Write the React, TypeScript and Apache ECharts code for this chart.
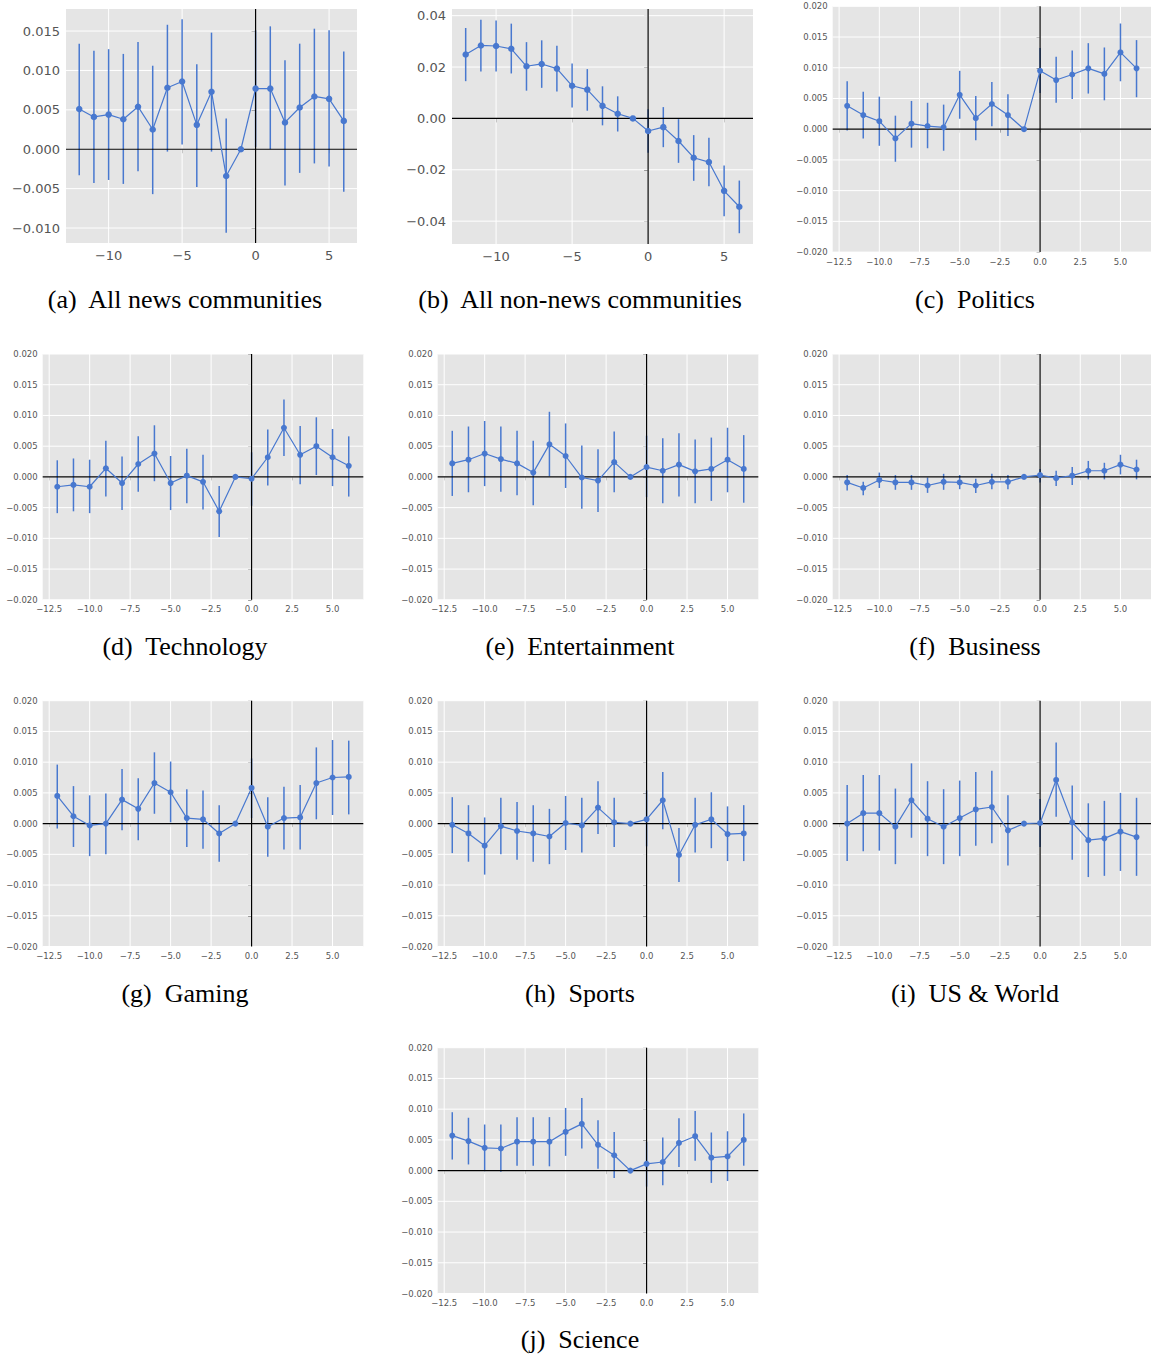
import { useEffect, useRef } from 'react'
import * as echarts from 'echarts'

// months relative to the event
const offsets = [-12, -11, -10, -9, -8, -7, -6, -5, -4, -3, -2, -1, 0, 1, 2, 3, 4, 5, 6]

// (a) All news communities
const newsMean = [0.0051, 0.0041, 0.0044, 0.0038, 0.0054, 0.0025, 0.0078, 0.0086, 0.0031, 0.0073, -0.0034, 0, 0.0077, 0.0077, 0.0034, 0.0053, 0.0067, 0.0064, 0.0036]
const newsHigh = [0.0134, 0.0125, 0.0127, 0.0121, 0.0136, 0.0106, 0.0158, 0.0165, 0.0108, 0.0148, 0.0039, 0, 0.0151, 0.0156, 0.0113, 0.0134, 0.0153, 0.0151, 0.0124]
const newsLow = [-0.0033, -0.0043, -0.0039, -0.0044, -0.0028, -0.0057, -0.0003, 0.0006, -0.0048, -0.0003, -0.0106, 0, 0.0003, 0.0, -0.0046, -0.003, -0.0018, -0.0022, -0.0054]

// (b) All non-news communities
const nonNewsMean = [0.0249, 0.0284, 0.0282, 0.0271, 0.0203, 0.0212, 0.0194, 0.0127, 0.0112, 0.0049, 0.0018, 0, -0.0049, -0.0034, -0.0088, -0.0153, -0.017, -0.0282, -0.0344]
const nonNewsHigh = [0.0352, 0.0384, 0.0381, 0.0369, 0.0297, 0.0304, 0.0283, 0.0214, 0.0192, 0.0125, 0.0086, 0, 0.0036, 0.0044, -0.0003, -0.0065, -0.0075, -0.0183, -0.0242]
const nonNewsLow = [0.0145, 0.0183, 0.0183, 0.0175, 0.0108, 0.0119, 0.0105, 0.0042, 0.003, -0.0027, -0.0051, 0, -0.0134, -0.0112, -0.0173, -0.0243, -0.0264, -0.0381, -0.0447]

// (c) Politics
const politicsMean = [0.0038, 0.0023, 0.0013, -0.0015, 0.0009, 0.0005, 0.0003, 0.0056, 0.0018, 0.0041, 0.0023, 0, 0.0095, 0.008, 0.0089, 0.0099, 0.009, 0.0125, 0.0099]
const politicsHigh = [0.0078, 0.0061, 0.0053, 0.0022, 0.0046, 0.0043, 0.004, 0.0095, 0.0054, 0.0077, 0.0057, 0, 0.0132, 0.0118, 0.0128, 0.014, 0.0133, 0.0172, 0.0145]
const politicsLow = [-0.0002, -0.0015, -0.0027, -0.0053, -0.003, -0.0031, -0.0035, 0.0017, -0.0018, 0.0005, -0.0011, 0, 0.0059, 0.0043, 0.0049, 0.0058, 0.0047, 0.0078, 0.0052]

// (d) Technology
const techMean = [-0.0016, -0.0013, -0.0016, 0.0014, -0.001, 0.0021, 0.0038, -0.001, 0.0002, -0.0008, -0.0056, 0, -0.0003, 0.0032, 0.008, 0.0036, 0.005, 0.0032, 0.0018]
const techHigh = [0.0027, 0.003, 0.0028, 0.0059, 0.0033, 0.0066, 0.0084, 0.0034, 0.0046, 0.0036, -0.0015, 0, 0.004, 0.0077, 0.0126, 0.0083, 0.0097, 0.0078, 0.0066]
const techLow = [-0.0059, -0.0056, -0.0059, -0.0032, -0.0054, -0.0024, -0.0007, -0.0054, -0.0043, -0.0053, -0.0098, 0, -0.0047, -0.0014, 0.0034, -0.0012, 0.0003, -0.0015, -0.0032]

// (e) Entertainment
const entMean = [0.0022, 0.0028, 0.0038, 0.0029, 0.0022, 0.0007, 0.0053, 0.0034, -0.0001, -0.0006, 0.0024, 0, 0.0016, 0.001, 0.002, 0.0009, 0.0013, 0.0028, 0.0013]
const entHigh = [0.0075, 0.0082, 0.0091, 0.0082, 0.0075, 0.0059, 0.0106, 0.0087, 0.0051, 0.0045, 0.0074, 0, 0.0067, 0.0063, 0.0071, 0.0061, 0.0064, 0.008, 0.0068]
const entLow = [-0.0031, -0.0025, -0.0015, -0.0024, -0.003, -0.0046, 0.0001, -0.0018, -0.0052, -0.0057, -0.0025, 0, -0.0033, -0.0043, -0.0032, -0.0043, -0.0039, -0.0025, -0.0042]

// (f) Business
const bizMean = [-0.0009, -0.0018, -0.0005, -0.0009, -0.0009, -0.0014, -0.0008, -0.0009, -0.0014, -0.0008, -0.0008, 0, 0.0003, -0.0002, 0.0002, 0.001, 0.001, 0.002, 0.0012]
const bizHigh = [0.0003, -0.0008, 0.0007, 0.0003, 0.0003, -0.0001, 0.0005, 0.0003, -0.0003, 0.0005, 0.0003, 0, 0.0013, 0.001, 0.0016, 0.0026, 0.0023, 0.0036, 0.0028]
const bizLow = [-0.0022, -0.003, -0.0018, -0.0021, -0.0021, -0.0026, -0.0021, -0.002, -0.0026, -0.002, -0.002, 0, -0.0009, -0.0015, -0.0013, -0.0004, -0.0004, 0.0004, -0.0004]

// (g) Gaming
const gamingMean = [0.0045, 0.0012, -0.0003, 0.0, 0.0039, 0.0024, 0.0066, 0.0051, 0.0009, 0.0007, -0.0016, 0, 0.0058, -0.0005, 0.0009, 0.001, 0.0066, 0.0075, 0.0076]
const gamingHigh = [0.0096, 0.0061, 0.0046, 0.0049, 0.0089, 0.0074, 0.0116, 0.0101, 0.0056, 0.0054, 0.003, 0, 0.0106, 0.0043, 0.006, 0.0063, 0.0124, 0.0136, 0.0135]
const gamingLow = [-0.0008, -0.0038, -0.0053, -0.005, -0.0011, -0.0027, 0.0016, 0.0002, -0.0038, -0.0041, -0.0062, 0, 0.0009, -0.0054, -0.0042, -0.0042, 0.0007, 0.0014, 0.0015]

// (h) Sports
const sportsMean = [-0.0002, -0.0016, -0.0036, -0.0004, -0.0012, -0.0016, -0.0021, 0.0001, -0.0003, 0.0026, 0.0002, 0, 0.0007, 0.0038, -0.0051, -0.0002, 0.0007, -0.0017, -0.0016]
const sportsHigh = [0.0043, 0.003, 0.001, 0.0042, 0.0035, 0.003, 0.0024, 0.0045, 0.0042, 0.0069, 0.0042, 0, 0.0054, 0.0084, -0.0007, 0.0042, 0.0051, 0.0028, 0.003]
const sportsLow = [-0.0048, -0.0062, -0.0083, -0.005, -0.0059, -0.0062, -0.0066, -0.0043, -0.0047, -0.0017, -0.0038, 0, -0.0037, -0.0009, -0.0095, -0.0047, -0.004, -0.0061, -0.0061]

// (i) US & World
const worldMean = [0.0, 0.0017, 0.0017, -0.0005, 0.0038, 0.0008, -0.0005, 0.0009, 0.0023, 0.0027, -0.0011, 0, 0.0001, 0.0071, 0.0002, -0.0027, -0.0024, -0.0013, -0.0022]
const worldHigh = [0.0063, 0.0079, 0.0079, 0.0057, 0.0098, 0.0069, 0.0056, 0.007, 0.0084, 0.0086, 0.0046, 0, 0.004, 0.0132, 0.0062, 0.0033, 0.0037, 0.005, 0.0042]
const worldLow = [-0.0061, -0.0045, -0.0044, -0.0066, -0.0023, -0.0053, -0.0066, -0.0053, -0.0036, -0.0032, -0.0068, 0, -0.0038, 0.0011, -0.0059, -0.0087, -0.0085, -0.0077, -0.0085]

// (j) Science
const scienceMean = [0.0057, 0.0048, 0.0037, 0.0036, 0.0047, 0.0047, 0.0047, 0.0063, 0.0076, 0.0042, 0.0025, 0, 0.0011, 0.0014, 0.0045, 0.0056, 0.0021, 0.0023, 0.005]
const scienceHigh = [0.0095, 0.0086, 0.0075, 0.0075, 0.0087, 0.0087, 0.0087, 0.0102, 0.0118, 0.0082, 0.0063, 0, 0.0047, 0.0054, 0.0085, 0.0097, 0.0062, 0.0064, 0.0093]
const scienceLow = [0.0018, 0.001, -0.0001, -0.0002, 0.0008, 0.0008, 0.0007, 0.0024, 0.0036, 0.0003, -0.0012, 0, -0.0026, -0.0024, 0.0006, 0.0016, -0.002, -0.0017, 0.0008]

// tick labels
const xTicksWide = [-10, -5, 0, 5]
const xTicksSmall = [-12.5, -10, -7.5, -5, -2.5, 0, 2.5, 5]
const yTicksNews = [-0.01, -0.005, 0, 0.005, 0.01, 0.015]
const yTicksNonNews = [-0.04, -0.02, 0, 0.02, 0.04]
const yTicksSmall = [-0.02, -0.015, -0.01, -0.005, 0, 0.005, 0.01, 0.015, 0.02]

const BLUE = '#4878cf'
const LABEL = '#555555'

type Panel = {
  caption: string
  mean: number[]
  low: number[]
  high: number[]
  box: [number, number, number, number]
  yRange: [number, number]
  xTicks: number[]
  yTicks: number[]
  xDigits: number
  yDigits: number
  big: boolean
  capX: number
  capY: number
}

const COL = [42.7, 437.7, 832.7]
const ROW = [6.3, 354, 700.7, 1047.7]
const CAP_Y = [299, 646, 993, 1339]
const CAP_X = [185, 580, 975]

function small(caption: string, mean: number[], low: number[], high: number[], c: number, r: number): Panel {
  return {
    caption, mean, low, high,
    box: [COL[c], ROW[r], 320.6, 245.8],
    yRange: [-0.02, 0.02],
    xTicks: xTicksSmall, yTicks: yTicksSmall,
    xDigits: 1, yDigits: 3, big: false,
    capX: CAP_X[c], capY: CAP_Y[r],
  }
}

const panels: Panel[] = [
  {
    caption: '(a)  All news communities', mean: newsMean, low: newsLow, high: newsHigh,
    box: [66, 9, 291, 234], yRange: [-0.0119, 0.0178],
    xTicks: xTicksWide, yTicks: yTicksNews, xDigits: 0, yDigits: 3, big: true,
    capX: CAP_X[0], capY: CAP_Y[0],
  },
  {
    caption: '(b)  All non-news communities', mean: nonNewsMean, low: nonNewsLow, high: nonNewsHigh,
    box: [452, 9, 301, 235], yRange: [-0.0489, 0.0426],
    xTicks: xTicksWide, yTicks: yTicksNonNews, xDigits: 0, yDigits: 2, big: true,
    capX: CAP_X[1], capY: CAP_Y[0],
  },
  small('(c)  Politics', politicsMean, politicsLow, politicsHigh, 2, 0),
  small('(d)  Technology', techMean, techLow, techHigh, 0, 1),
  small('(e)  Entertainment', entMean, entLow, entHigh, 1, 1),
  small('(f)  Business', bizMean, bizLow, bizHigh, 2, 1),
  small('(g)  Gaming', gamingMean, gamingLow, gamingHigh, 0, 2),
  small('(h)  Sports', sportsMean, sportsLow, sportsHigh, 1, 2),
  small('(i)  US & World', worldMean, worldLow, worldHigh, 2, 2),
  small('(j)  Science', scienceMean, scienceLow, scienceHigh, 1, 3),
]

function fmt(v: number, digits: number) {
  const s = Math.abs(v).toFixed(digits)
  return (v < 0 && Number(s) !== 0 ? '\u2212' : '') + s
}

function buildOption(): echarts.EChartsOption {
  const grid: any[] = []
  const xAxis: any[] = []
  const yAxis: any[] = []
  const series: any[] = []
  const graphic: any[] = []

  panels.forEach((p, i) => {
    const fontSize = p.big ? 13 : 8.5
    grid.push({
      left: p.box[0], top: p.box[1], width: p.box[2], height: p.box[3],
      show: true, backgroundColor: '#e5e5e5', borderWidth: 0,
    })
    xAxis.push({
      type: 'value', gridIndex: i, min: -12.9, max: 6.9,
      axisLine: { show: false },
      splitLine: { show: false },
      axisTick: { show: true, length: p.big ? 4 : 3.5, customValues: p.xTicks, lineStyle: { color: LABEL, width: 0.8 } },
      axisLabel: {
        customValues: p.xTicks, color: LABEL, fontSize, fontFamily: 'DejaVu Sans',
        margin: p.big ? 6 : 5,
        formatter: (v: number) => fmt(v, p.xDigits),
      },
    })
    yAxis.push({
      type: 'value', gridIndex: i, min: p.yRange[0], max: p.yRange[1],
      axisLine: { show: false },
      splitLine: { show: false },
      axisTick: { show: true, length: p.big ? 4 : 3.5, customValues: p.yTicks, lineStyle: { color: LABEL, width: 0.8 } },
      axisLabel: {
        customValues: p.yTicks, color: LABEL, fontSize, fontFamily: 'DejaVu Sans',
        margin: p.big ? 6 : 5,
        formatter: (v: number) => fmt(v, p.yDigits),
      },
    })

    // white grid lines
    series.push({
      type: 'custom', xAxisIndex: i, yAxisIndex: i, silent: true, z: 1,
      encode: { x: 0, y: 1 },
      data: p.xTicks.map(v => [v, 0]),
      renderItem: (params: any, api: any) => {
        const cs = params.coordSys
        const x = api.coord([api.value(0), 0])[0]
        return { type: 'line', shape: { x1: x, y1: cs.y, x2: x, y2: cs.y + cs.height }, style: { stroke: '#ffffff', lineWidth: 1 } }
      },
    })
    series.push({
      type: 'custom', xAxisIndex: i, yAxisIndex: i, silent: true, z: 1,
      encode: { x: 0, y: 1 },
      data: p.yTicks.map(v => [0, v]),
      renderItem: (params: any, api: any) => {
        const cs = params.coordSys
        const y = api.coord([0, api.value(1)])[1]
        return { type: 'line', shape: { x1: cs.x, y1: y, x2: cs.x + cs.width, y2: y }, style: { stroke: '#ffffff', lineWidth: 1 } }
      },
    })

    // error bars
    series.push({
      type: 'custom', xAxisIndex: i, yAxisIndex: i, silent: true, z: 2,
      encode: { x: 0, y: [1, 2] },
      data: offsets.map((x, k) => [x, p.low[k], p.high[k]]),
      renderItem: (_params: any, api: any) => {
        const a = api.coord([api.value(0), api.value(1)])
        const b = api.coord([api.value(0), api.value(2)])
        return { type: 'line', shape: { x1: a[0], y1: a[1], x2: b[0], y2: b[1] }, style: { stroke: BLUE, lineWidth: 1.5 } }
      },
    })

    // black lines at x = 0 and y = 0
    series.push({
      type: 'custom', xAxisIndex: i, yAxisIndex: i, silent: true, z: 3,
      encode: { x: 0, y: 1 },
      data: [[0, 0]],
      renderItem: (params: any, api: any) => {
        const cs = params.coordSys
        const o = api.coord([0, 0])
        return {
          type: 'group',
          children: [
            { type: 'line', shape: { x1: o[0], y1: cs.y, x2: o[0], y2: cs.y + cs.height }, style: { stroke: '#000000', lineWidth: 1.2 } },
            { type: 'line', shape: { x1: cs.x, y1: o[1], x2: cs.x + cs.width, y2: o[1] }, style: { stroke: '#000000', lineWidth: 1.2 } },
          ],
        }
      },
    })

    series.push({
      type: 'line', xAxisIndex: i, yAxisIndex: i, z: 4,
      data: offsets.map((x, k) => [x, p.mean[k]]),
      symbol: 'circle',
      symbolSize: p.big ? 6.5 : 6,
      lineStyle: { color: BLUE, width: 1.2 },
      itemStyle: { color: BLUE },
    })

    graphic.push({
      type: 'text', x: p.capX, y: p.capY,
      style: {
        text: p.caption, fill: '#000000', align: 'center', verticalAlign: 'middle',
        font: '26px "Liberation Serif", serif',
      },
    })
  })

  return {
    animation: false,
    backgroundColor: '#ffffff',
    grid, xAxis, yAxis, series, graphic,
  }
}

export default function App() {
  const chartRef = useRef<HTMLDivElement>(null)

  useEffect(() => {
    if (!chartRef.current) return
    const chart = echarts.init(chartRef.current, undefined, { renderer: 'svg' })
    chart.setOption(buildOption())
    return () => {
      chart.dispose()
    }
  }, [])

  return (
    <div
      ref={chartRef}
      style={{ position: 'absolute', left: 0, top: 0, width: 1151, height: 1355 }}
    />
  )
}
